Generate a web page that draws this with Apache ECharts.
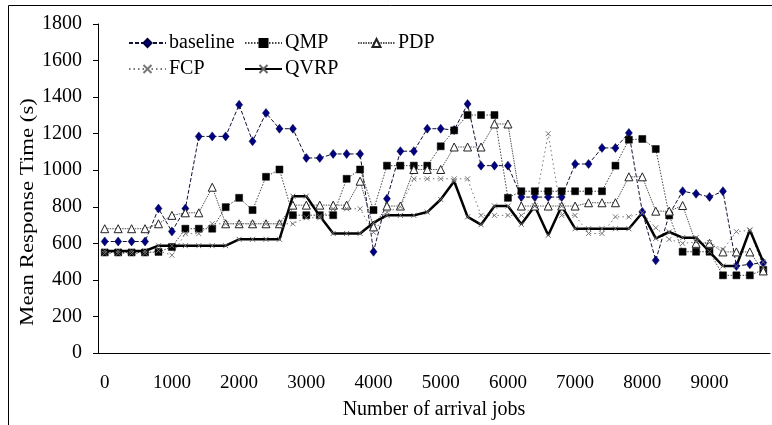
<!DOCTYPE html>
<html>
<head>
<meta charset="utf-8">
<script src="https://cdn.jsdelivr.net/npm/echarts@6/dist/echarts.min.js"></script>
<style>
html,body{margin:0;padding:0;background:#fff;}
#chart{width:772px;height:425px;}
</style>
</head>
<body>
<div id="chart"></div>
<script>
var categories = ['0','200','400','600','800','1000','1200','1400','1600','1800',
 '2000','2200','2400','2600','2800','3000','3200','3400','3600','3800',
 '4000','4200','4400','4600','4800','5000','5200','5400','5600','5800',
 '6000','6200','6400','6600','6800','7000','7200','7400','7600','7800',
 '8000','8200','8400','8600','8800','9000','9200','9400','9600','9800'];

var baseline = [610,610,610,610,790,665,790,1185,1185,1185,
 1358,1158,1313,1227,1227,1067,1067,1089,1089,1089,
 554,844,1104,1104,1227,1227,1220,1362,1025,1025,
 1025,853,853,853,853,1034,1034,1122,1122,1204,
 772,507,758,885,871,854,885,476,485,494];

var qmp = [550,550,550,550,553,580,680,680,680,798,
 849,782,964,1004,754,754,754,754,953,1004,
 782,1025,1025,1025,1025,1131,1218,1302,1302,1302,
 849,885,885,885,885,885,885,885,1025,1167,
 1171,1116,753,554,554,554,425,425,425,455];

var pdp = [680,680,680,680,707,753,767,767,907,707,
 707,707,707,707,809,809,809,809,809,940,
 690,804,804,1004,1004,1004,1127,1127,1127,1253,
 1253,804,804,804,804,804,822,822,822,964,
 964,776,776,807,600,600,553,553,553,449];

var fcp = [545,545,545,545,560,535,653,653,707,707,
 707,707,707,707,707,740,740,789,789,789,
 660,770,800,953,953,953,953,953,753,753,
 753,753,804,1200,753,753,654,654,745,745,
 767,685,622,600,607,604,567,664,671,470];

var qvrp = [558,558,558,558,587,587,587,587,587,587,
 622,622,622,622,858,858,749,654,654,654,
 713,753,753,753,771,840,940,745,702,804,
 804,704,804,644,804,680,680,680,680,680,
 767,627,662,631,631,554,476,476,673,498];

var yTicks = {min: 0, max: 1800, interval: 200};

var FONT = '"Liberation Serif", "Times New Roman", serif';
var xPath = 'path://M0,0L10,10M10,0L0,10';

function legendAt(name, left, top) {
  return {
    data: [name], left: left, top: top, orient: 'horizontal',
    itemWidth: 37, itemHeight: 10, itemGap: 0, padding: 0,
    textStyle: {fontFamily: FONT, fontSize: 20, color: '#000', padding: [0,0,0,-2]}
  };
}

var chart = echarts.init(document.getElementById('chart'), null, {renderer: 'canvas'});
chart.setOption({
  animation: false,
  backgroundColor: '#fff',
  graphic: [{
    type: 'rect', shape: {x: 8.5, y: 5.5, width: 800, height: 500},
    style: {fill: 'none', stroke: '#000', lineWidth: 1}, silent: true, z: -10
  }, {
    type: 'text', x: 28, y: 212, rotation: Math.PI / 2, scaleX: 1.2, silent: true,
    style: {text: 'Mean Response Time (s)', fontFamily: FONT, fontSize: 19, fill: '#000',
            align: 'center', verticalAlign: 'middle'}
  }],
  legend: [
    legendAt('baseline', 128, 33),
    legendAt('QMP', 244, 33),
    legendAt('PDP', 357, 33),
    legendAt('FCP', 128, 59),
    legendAt('QVRP', 244, 59)
  ],
  grid: {left: 98, right: 2, top: 24, bottom: 71, containLabel: false},
  xAxis: {
    type: 'category', data: categories, boundaryGap: true,
    name: 'Number of arrival jobs', nameLocation: 'middle', nameGap: 47,
    nameTextStyle: {fontFamily: FONT, fontSize: 20, color: '#000'},
    axisLine: {lineStyle: {color: '#000', width: 1}},
    axisTick: {inside: true, length: 6, interval: 0, lineStyle: {color: '#000'}},
    axisLabel: {interval: 4, fontFamily: FONT, fontSize: 19, color: '#000', margin: 21},
    splitLine: {show: false}
  },
  yAxis: {
    type: 'value', min: yTicks.min, max: yTicks.max, interval: yTicks.interval,
    axisLine: {show: true, lineStyle: {color: '#000', width: 1}},
    axisTick: {show: true, length: 5, lineStyle: {color: '#000'}},
    axisLabel: {fontFamily: FONT, fontSize: 20, color: '#000', margin: 16,
                formatter: function (v) { return String(v); }},
    splitLine: {show: false}
  },
  series: [
    {
      name: 'baseline', type: 'line', data: baseline, showAllSymbol: true,
      symbol: 'diamond', symbolSize: [7, 9],
      lineStyle: {color: '#111133', width: 1, type: [4, 2]},
      itemStyle: {color: '#000080', borderColor: '#000040', borderWidth: 0.5}
    },
    {
      name: 'QMP', type: 'line', data: qmp, showAllSymbol: true,
      symbol: 'rect', symbolSize: 7,
      lineStyle: {color: '#444', width: 1, type: [1.5, 1.5]},
      itemStyle: {color: '#000', borderColor: '#000', borderWidth: 0.5}
    },
    {
      name: 'PDP', type: 'line', data: pdp, showAllSymbol: true,
      symbol: 'triangle', symbolSize: [8, 8],
      lineStyle: {color: '#555', width: 1, type: [1.5, 1]},
      itemStyle: {color: '#fff', borderColor: '#222', borderWidth: 1}
    },
    {
      name: 'FCP', type: 'line', data: fcp, showAllSymbol: true,
      symbol: xPath, symbolSize: 5,
      lineStyle: {color: '#777', width: 1, type: [1.5, 3]},
      itemStyle: {color: '#888', borderColor: '#777', borderWidth: 1}
    },
    {
      name: 'QVRP', type: 'line', data: qvrp, showAllSymbol: true,
      symbol: xPath, symbolSize: 5,
      lineStyle: {color: '#000', width: 2.5},
      itemStyle: {color: '#000', borderColor: '#666', borderWidth: 1}
    }
  ]
});
</script>
</body>
</html>
